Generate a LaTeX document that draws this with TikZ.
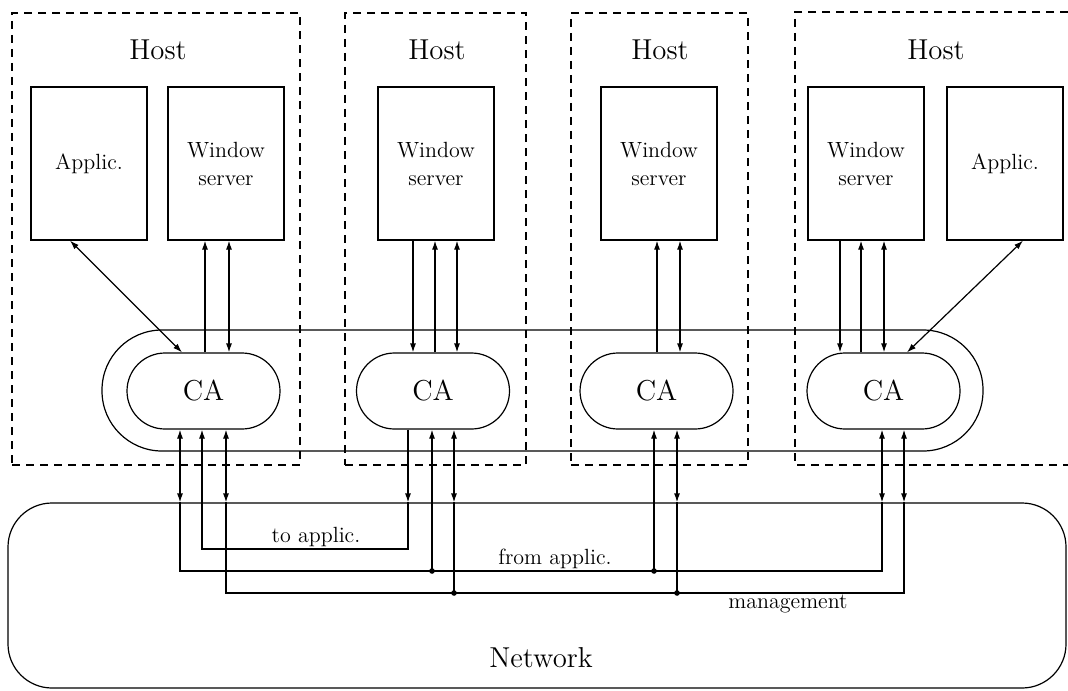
\documentclass[tikz,border=0pt]{standalone}
\usepackage{tikz}
\usetikzlibrary{arrows,arrows.meta,positioning}

\begin{document}
\begin{tikzpicture}
	[x=0.5pt, y=-0.5pt, line width=0.6pt, >={Latex[length=4.5pt,width=3pt]},
	hostbox/.style	= {rectangle, draw, dash pattern=on 4pt off 3pt, inner sep=0pt, minimum width=#1, minimum height=226pt},
	procbox/.style	= {rectangle, draw, inner sep=0pt, align=center, minimum width=58pt, minimum height=76.5pt, font=\fontsize{11}{14}\selectfont},
	cabox/.style	= {rectangle, draw, rounded corners=19pt, inner sep=0pt, minimum width=76.5pt, minimum height=38pt, font=\Large},
	ringbox/.style	= {rectangle, draw, rounded corners=30pt, inner sep=0pt, minimum width=440.5pt, minimum height=60.5pt},
	netbox/.style	= {rectangle, draw, rounded corners=22pt, inner sep=0pt, minimum width=529pt, minimum height=92.5pt},
	hosttitle/.style = {font=\Large},
	buslabel/.style	= {font=\fontsize{11}{13}\selectfont},
	junction/.style	= {circle, fill, inner sep=0pt, minimum size=2.8pt}]
	
	\useasboundingbox (0,0) rectangle (1068,690);
	
	% hosts
	\node at (156, 239)		[hostbox=144pt]		(h1)	{};
	\node at (435.5, 239)	[hostbox=90.5pt]	(h2)	{};
	\node at (659.5, 239)	[hostbox=88.5pt]	(h3)	{};
	\draw [dash pattern=on 4pt off 3pt] (1068,12) -| (795,465) -- (1068,465);
	
	\node at (158, 50)		[hosttitle]	(t1)	{Host};
	\node at (437, 50)		[hosttitle]	(t2)	{Host};
	\node at (660, 50)		[hosttitle]	(t3)	{Host};
	\node at (936, 50)		[hosttitle]	(t4)	{Host};
	
	\node at (89, 163.5)	[procbox]	(app1)	{Applic.};
	\node at (226, 163.5)	[procbox]	(ws1)	{Window\\server};
	\node at (436, 163.5)	[procbox]	(ws2)	{Window\\server};
	\node at (659, 163.5)	[procbox]	(ws3)	{Window\\server};
	\node at (866, 163.5)	[procbox]	(ws4)	{Window\\server};
	\node at (1005, 163.5)	[procbox]	(app4)	{Applic.};
	
	% communication agents
	\node at (542.5, 390.5)	[ringbox]	(ring)	{};
	\node at (203.5, 391)	[cabox]		(ca1)	{CA};
	\node at (433, 391)		[cabox]		(ca2)	{CA};
	\node at (656.5, 391)	[cabox]		(ca3)	{CA};
	\node at (883.5, 391)	[cabox]		(ca4)	{CA};
	
	% network
	\node at (537, 595.5)	[netbox]	(net)		{};
	\node at (541, 658)		[hosttitle]	(netname)	{Network};
	
	\node at (316, 537)		[buslabel]	(toapp)		{to applic.};
	\node at (555, 559)		[buslabel]	(fromapp)	{from applic.};
	\node at (788, 604)		[buslabel]	(mgmt)		{management};
	
	\node at (432, 571)		[junction]	(fa2)	{};
	\node at (654, 571)		[junction]	(fa3)	{};
	\node at (454, 593)		[junction]	(mg2)	{};
	\node at (677, 593)		[junction]	(mg3)	{};
	
	% host side
	\draw [<->] (70,0 |- app1.south) -- (182,0 |- ca1.north);
	\draw [->] (205,0 |- ca1.north) -- (205,0 |- ws1.south);
	\draw [<->] (229,0 |- ca1.north) -- (229,0 |- ws1.south);
	
	\draw [->] (413,0 |- ws2.south) -- (413,0 |- ca2.north);
	\draw [->] (435,0 |- ca2.north) -- (435,0 |- ws2.south);
	\draw [<->] (457,0 |- ca2.north) -- (457,0 |- ws2.south);
	
	\draw [->] (657,0 |- ca3.north) -- (657,0 |- ws3.south);
	\draw [<->] (680,0 |- ca3.north) -- (680,0 |- ws3.south);
	
	\draw [->] (840,0 |- ws4.south) -- (840,0 |- ca4.north);
	\draw [->] (861,0 |- ca4.north) -- (861,0 |- ws4.south);
	\draw [<->] (884,0 |- ca4.north) -- (884,0 |- ws4.south);
	\draw [<->] (1023,0 |- app4.south) -- (907,0 |- ca4.north);
	
	% to applic.
	\draw [->] (408,0 |- ca2.south) -- (408,0 |- net.north);
	\draw [->] (408,0 |- net.north) |- (202,549) -- (202,0 |- ca1.south);
	
	% from applic.
	\draw [<->] (180,0 |- net.north) -- (180,0 |- ca1.south);
	\draw (180,0 |- net.north) |- (882,571) -- (882,0 |- net.north);
	\draw [<->] (882,0 |- net.north) -- (882,0 |- ca4.south);
	\draw [->] (fa2.center) -- (432,0 |- ca2.south);
	\draw [->] (fa3.center) -- (654,0 |- ca3.south);
	
	% management
	\draw [<->] (226,0 |- net.north) -- (226,0 |- ca1.south);
	\draw (226,0 |- net.north) |- (904,593) -- (904,0 |- net.north);
	\draw [<->] (904,0 |- net.north) -- (904,0 |- ca4.south);
	\draw (mg2.center) -- (454,0 |- net.north);
	\draw [<->] (454,0 |- net.north) -- (454,0 |- ca2.south);
	\draw (mg3.center) -- (677,0 |- net.north);
	\draw [<->] (677,0 |- net.north) -- (677,0 |- ca3.south);
	
\end{tikzpicture}
\end{document}
